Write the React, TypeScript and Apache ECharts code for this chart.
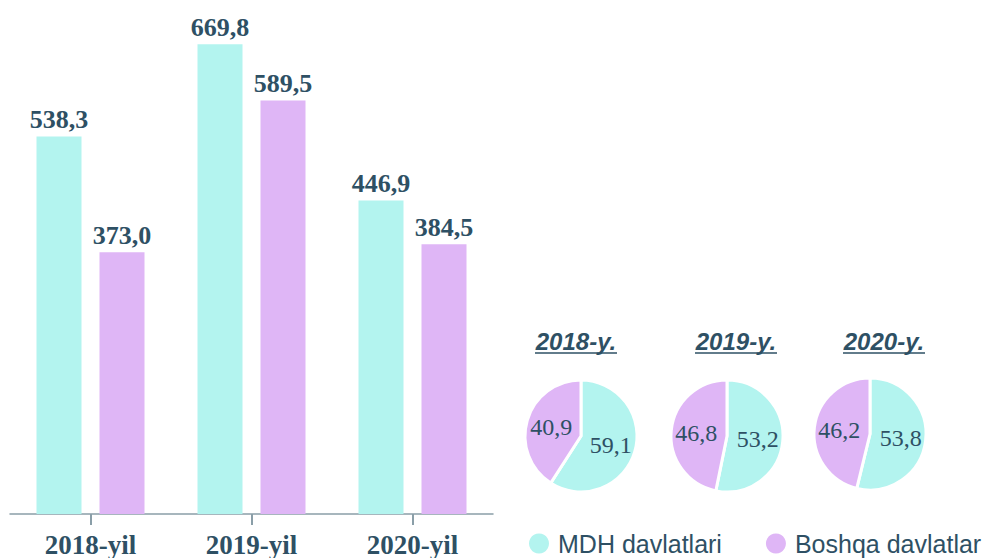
import React, { useEffect, useRef } from "react";
import * as echarts from "echarts";

const categories = ["2018-yil", "2019-yil", "2020-yil"];
const mdhValues = [538.3, 669.8, 446.9];
const boshqaValues = [373.0, 589.5, 384.5];
const pieYears = ["2018-y.", "2019-y.", "2020-y."];
const pieMdh = [59.1, 53.2, 53.8];
const pieBoshqa = [40.9, 46.8, 46.2];
const seriesNames = ["MDH davlatlari", "Boshqa davlatlar"];

const CYAN = "#b3f4ef";
const PURPLE = "#dfb6f6";
const TEXT = "#2e5064";

const fmt = (v: number) => v.toFixed(1).replace(".", ",");

export default function App() {
  const ref = useRef<HTMLDivElement>(null);
  useEffect(() => {
    if (!ref.current) return;
    const chart = echarts.init(ref.current, undefined, { renderer: "svg" });
    const pieCenters = [
      [581, 436],
      [727, 436],
      [870, 434],
    ];
    const titleX = [576, 736, 884];
    const titleW = 82;
    const pies = pieYears.map((y, i) => ({
      type: "pie",
      name: y,
      center: pieCenters[i],
      radius: 56,
      startAngle: 90,
      clockwise: true,
      silent: true,
      itemStyle: { borderColor: "#ffffff", borderWidth: 3 },
      label: {
        show: true,
        position: "inside",
        formatter: (p: any) => fmt(p.value),
        fontFamily: "Liberation Serif",
        fontSize: 24,
        color: TEXT,
      },
      labelLine: { show: false },
      data: [
        { name: seriesNames[0], value: pieMdh[i], itemStyle: { color: CYAN } },
        { name: seriesNames[1], value: pieBoshqa[i], itemStyle: { color: PURPLE } },
      ],
    }));
    const graphics: any[] = [];
    pieYears.forEach((y, i) => {
      graphics.push({
        type: "text",
        x: titleX[i],
        y: 341,
        style: {
          text: y,
          fill: TEXT,
          font: "italic bold 24px 'Liberation Sans'",
          textAlign: "center",
          textVerticalAlign: "middle",
        },
      });
      graphics.push({
        type: "line",
        shape: { x1: titleX[i] - titleW / 2, y1: 353, x2: titleX[i] + titleW / 2, y2: 353 },
        style: { stroke: TEXT, lineWidth: 1.5 },
      });
    });
    const barLabel = {
      show: true,
      position: "top",
      distance: 4,
      formatter: (p: any) => fmt(p.value),
      fontFamily: "Liberation Serif",
      fontWeight: "bold",
      fontSize: 26,
      color: TEXT,
    };
    chart.setOption({
      animation: false,
      grid: { left: 10, right: 513, top: 23, bottom: 39, containLabel: false },
      legend: {
        data: seriesNames,
        left: 524,
        top: 526,
        icon: "circle",
        itemWidth: 20,
        itemHeight: 20,
        itemGap: 44,
        textStyle: {
          fontFamily: "Liberation Sans",
          fontSize: 25,
          color: TEXT,
          padding: [0, 0, 0, 4],
        },
      },
      xAxis: {
        type: "category",
        data: categories,
        axisLine: { lineStyle: { color: "#8a9ea8", width: 1.5 } },
        axisTick: { show: true, alignWithLabel: true, length: 11, lineStyle: { color: "#8a9ea8", width: 2 } },
        axisLabel: {
          margin: 17,
          fontFamily: "Liberation Serif",
          fontWeight: "bold",
          fontSize: 27,
          color: TEXT,
        },
      },
      yAxis: {
        type: "value",
        min: 0,
        max: 700,
        show: false,
        splitLine: { show: false },
      },
      series: [
        {
          type: "bar",
          name: seriesNames[0],
          data: mdhValues,
          barWidth: 45,
          barGap: "40%",
          itemStyle: { color: CYAN },
          label: barLabel,
        },
        {
          type: "bar",
          name: seriesNames[1],
          data: boshqaValues,
          barWidth: 45,
          barGap: "40%",
          itemStyle: { color: PURPLE },
          label: barLabel,
        },
        ...pies,
      ],
      graphic: graphics,
    });
    return () => chart.dispose();
  }, []);
  return <div ref={ref} style={{ width: 1006, height: 558, position: "absolute", left: 0, top: 0 }} />;
}
